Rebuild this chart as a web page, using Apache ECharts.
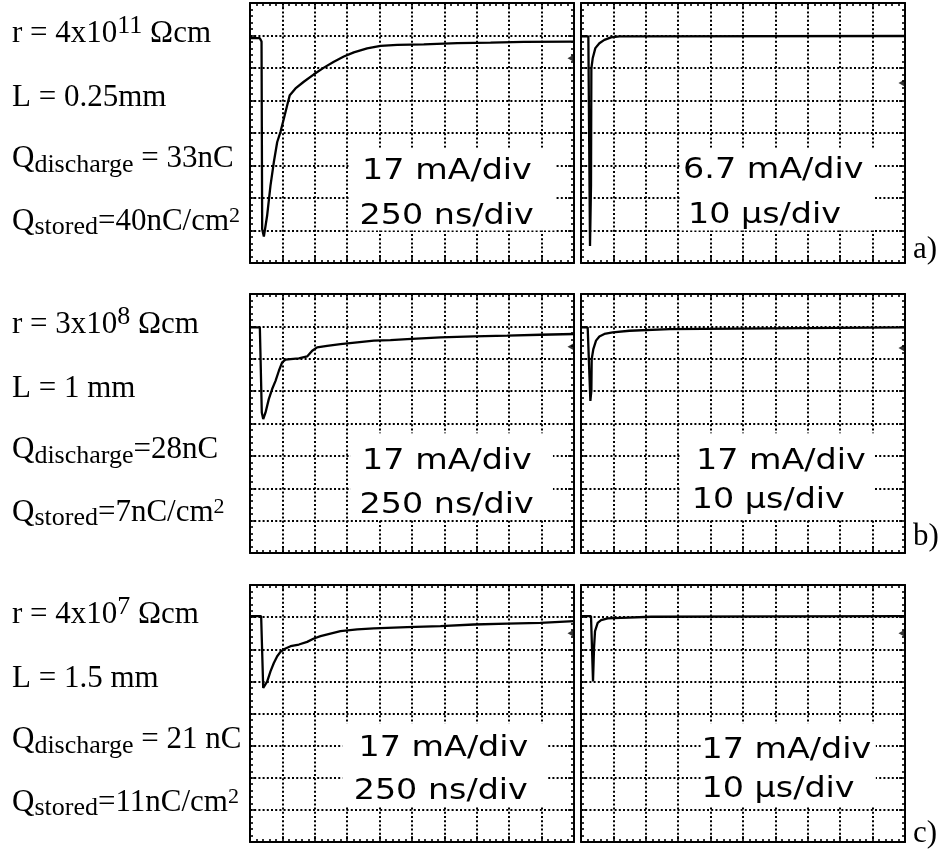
<!DOCTYPE html>
<html><head><meta charset="utf-8">
<script src="https://cdn.jsdelivr.net/npm/echarts@6/dist/echarts.min.js"></script>
<style>html,body{margin:0;padding:0;background:#fff}#c{width:943px;height:852px}</style>
</head><body><div id="c"></div>
<script>
// ---------------- DATA (read from the oscilloscope screens) ----------------
// time in ns (250 ns/div panels) or µs (10 µs/div panels); current in mA, screen centre = 0
const aLeftTime = [0, 76, 89, 94, 107, 132, 158, 184, 210, 235, 261, 287, 307, 351, 415, 493, 570, 647, 724, 801, 904, 1007, 1136, 1341, 1599, 1856, 2113, 2500];
const aLeftCurrent = [49.6, 49.6, 47.8, -50.3, -54.2, -43.3, -27.5, -15.2, -4.7, 0.5, 7.5, 14.5, 19.8, 23.3, 26.8, 30.7, 34.2, 37.3, 40.0, 42.2, 44.3, 45.6, 46.1, 46.4, 47.0, 47.3, 47.7, 47.8];
const aRightTime = [0, 2.27, 2.58, 2.78, 3.09, 3.2, 3.61, 4.43, 5.67, 7.22, 9.28, 11.86, 100];
const aRightCurrent = [19.9, 19.9, 19.7, -23.3, -10.8, 13.3, 15.4, 17.5, 18.5, 19.2, 19.7, 19.9, 20.0];
const bLeftTime = [0, 76, 86, 91, 102, 120, 145, 171, 197, 223, 248, 274, 313, 377, 441, 480, 518, 595, 698, 827, 956, 1084, 1213, 1470, 1727, 1984, 2241, 2500];
const bLeftCurrent = [50.5, 50.5, 49.6, 5.8, 2.3, 5.8, 12.8, 18.1, 22.4, 27.7, 32.1, 33.5, 33.8, 34.2, 35.2, 38.2, 40.0, 40.8, 41.7, 42.6, 43.5, 43.8, 44.3, 45.2, 45.7, 46.1, 46.6, 47.0];
const bRightTime = [0, 2.06, 2.58, 2.89, 3.2, 3.3, 3.81, 4.64, 5.67, 7.22, 9.79, 14.95, 27.3, 100];
const bRightCurrent = [50.5, 50.5, 49.6, 11.9, 17.2, 33.8, 39.1, 43.5, 45.7, 47.0, 47.8, 48.7, 49.6, 50.5];
const cLeftTime = [0, 86, 97, 102, 112, 133, 158, 184, 210, 235, 274, 313, 377, 441, 493, 544, 621, 698, 827, 956, 1213, 1470, 1727, 1984, 2241, 2500];
const cLeftCurrent = [51.5, 51.5, 50.6, 13.5, 12.6, 17.0, 22.3, 26.7, 30.3, 32.6, 34.4, 35.6, 36.5, 37.9, 39.7, 40.9, 42.3, 43.6, 44.5, 45.0, 45.7, 46.2, 47.1, 47.6, 48.0, 48.9];
const cRightTime = [0, 3.09, 3.51, 3.71, 4.02, 4.33, 5.15, 6.19, 8.25, 12.37, 21.65, 100];
const cRightCurrent = [51.5, 51.5, 50.6, 17.0, 34.7, 43.6, 48.0, 49.4, 50.3, 50.6, 51.2, 51.5];

const currentPerDiv = [17, 6.7, 17, 17, 17, 17];      // mA/div
const timePerDiv = [250, 10, 250, 10, 250, 10];       // ns/div or µs/div
const currentLabels = ['17 mA/div', '6.7 mA/div', '17 mA/div', '17 mA/div', '17 mA/div', '17 mA/div'];
const timeLabels = ['250 ns/div', '10 µs/div', '250 ns/div', '10 µs/div', '250 ns/div', '10 µs/div'];
const groundMarker = [39.1, 10.3, 40.3, 39.6, 42.5, 42.5]; // mA, channel marker on right edge
const rowTags = ['a)', 'b)', 'c)'];
// left-hand annotations: [text, kind] kind: n=normal, sup=superscript, sub=subscript
const rowNotes = [
  [[['r = 4x10','n'],['11','sup'],[' Ωcm','n']], [['L = 0.25mm','n']], [['Q','n'],['discharge','sub'],[' = 33nC','n']], [['Q','n'],['stored','sub'],['=40nC/cm','n'],['2','sup2']]],
  [[['r = 3x10','n'],['8','sup'],[' Ωcm','n']], [['L = 1 mm','n']], [['Q','n'],['discharge','sub'],['=28nC','n']], [['Q','n'],['stored','sub'],['=7nC/cm','n'],['2','sup2']]],
  [[['r = 4x10','n'],['7','sup'],[' Ωcm','n']], [['L = 1.5 mm','n']], [['Q','n'],['discharge','sub'],[' = 21 nC','n']], [['Q','n'],['stored','sub'],['=11nC/cm','n'],['2','sup2']]]
];

// ---------------- LAYOUT / STYLE ----------------
const traces = [[aLeftTime,aLeftCurrent],[aRightTime,aRightCurrent],[bLeftTime,bLeftCurrent],[bRightTime,bRightCurrent],[cLeftTime,cLeftCurrent],[cRightTime,cRightCurrent]];
const colLeft = [250, 581];
const rowTop = [3, 294, 585];
const rowHeight = [260, 259, 257];
const panelW = 324;
// white label boxes [x0,x1,y0,y1] in divisions (y from top)
const boxDiv = [[3.05,9.42,4.45,7.0],[3.05,9.05,4.45,7.0],[3.1,9.35,4.3,6.95],[3.05,9.05,4.3,6.95],[2.85,9.2,4.3,6.9],[3.7,9.1,4.3,6.9]];
// label line positions [xDiv, baselineDiv]
const lab1Div = [[3.46,5.40],[3.15,5.37],[3.46,5.40],[3.55,5.40],[3.35,5.33],[3.72,5.37]];
const lab2Div = [[3.38,6.79],[3.30,6.76],[3.38,6.75],[3.42,6.60],[3.20,6.67],[3.72,6.60]];
const noteBaselines = [[42,106,167,230],[332.5,396.5,457.5,520.5],[623,687,748,811]];
const tagBaselines = [258, 545, 842];

const mctx = document.createElement('canvas').getContext('2d');
function fontStr(size, fam){ return size + 'px ' + fam; }
function textW(t, size, fam){ mctx.font = fontStr(size, fam); return mctx.measureText(t).width; }
function midOffset(size, fam){ mctx.font = fontStr(size, fam); mctx.textBaseline = 'middle'; const m = mctx.measureText('H'); mctx.textBaseline = 'alphabetic'; return m.actualBoundingBoxDescent; }

const SERIF = '"Liberation Serif"';
const SANS = '"DejaVu Sans"';
const black = '#000';

const grids = [], xAxes = [], yAxes = [], series = [], graphics = [];
const tickStyle = {color: black, width: 1.6};
const gridDots = {color:'#000', width:2, type:[2,2.2]};
function xAxis(gi, pos, ts, split){
  return {type:'value', gridIndex:gi, position:pos, min:0, max:10*ts, interval:ts,
    axisLine:{show:true, onZero:false, lineStyle:{color:black, width:2}},
    axisTick:{show:true, inside:true, length:6, lineStyle:tickStyle},
    minorTick:{show:true, splitNumber:5, length:3, lineStyle:tickStyle},
    axisLabel:{show:false},
    splitLine:{show:split, lineStyle:gridDots},
    minorSplitLine:{show:false}};
}
function yAxis(gi, pos, cs, split){
  return {type:'value', gridIndex:gi, position:pos, min:-4*cs, max:4*cs, interval:cs,
    axisLine:{show:true, onZero:false, lineStyle:{color:black, width:2}},
    axisTick:{show:true, inside:true, length:6, lineStyle:tickStyle},
    minorTick:{show:true, splitNumber:5, length:3, lineStyle:tickStyle},
    axisLabel:{show:false},
    splitLine:{show:split, lineStyle:gridDots},
    minorSplitLine:{show:false}};
}

const sansMid = midOffset(29, SANS);
for (let i = 0; i < 6; i++){
  const row = Math.floor(i/2), col = i % 2;
  const left = colLeft[col], top = rowTop[row], h = rowHeight[row];
  const dx = panelW/10, dy = h/8;
  grids.push({left:left, top:top, width:panelW, height:h, outerBoundsMode:'none', containLabel:false});
  xAxes.push(xAxis(i, 'bottom', timePerDiv[i], true));
  xAxes.push(xAxis(i, 'top', timePerDiv[i], false));
  yAxes.push(yAxis(i, 'left', currentPerDiv[i], true));
  yAxes.push(yAxis(i, 'right', currentPerDiv[i], false));
  const [tt, cc] = traces[i];
  series.push({type:'line', xAxisIndex:2*i, yAxisIndex:2*i, data: tt.map((t,k)=>[t, cc[k]]),
    showSymbol:false, symbol:'none', lineStyle:{color:black, width:2.3}, z:5, animation:false});
  series.push({type:'scatter', xAxisIndex:2*i, yAxisIndex:2*i, data:[[10*timePerDiv[i], groundMarker[i]]],
    symbol:'triangle', symbolRotate:90, symbolSize:[8,7], symbolOffset:[-3,0], itemStyle:{color:black}, clip:false, z:6, animation:false});
  const b = boxDiv[i];
  graphics.push({type:'rect', z:3, silent:true, shape:{x:left+b[0]*dx, y:top+b[2]*dy, width:(b[1]-b[0])*dx, height:(b[3]-b[2])*dy}, style:{fill:'#fff'}});
  [[lab1Div[i], currentLabels[i]], [lab2Div[i], timeLabels[i]]].forEach(([p, txt]) => {
    graphics.push({type:'text', z:10, silent:true, x:left+p[0]*dx, y:top+p[1]*dy - sansMid, scaleX:1.15,
      style:{text:txt, x:0, y:0, fontSize:29, fontFamily:SANS, fill:black, align:'left', verticalAlign:'middle'}});
  });
}

// left annotations
const kinds = {n:{size:31, dy:0}, sup:{size:26, dy:-9}, sub:{size:26, dy:5}, sup2:{size:22, dy:-8}};
for (let r = 0; r < 3; r++){
  rowNotes[r].forEach((line, li) => {
    let x = 12;
    const base = noteBaselines[r][li];
    line.forEach(([txt, kind]) => {
      const k = kinds[kind];
      const ddy = (kind === 'sub' && txt === 'stored') ? 4 : k.dy;
      graphics.push({type:'text', z:10, silent:true, x:x, y:base + ddy - midOffset(k.size, SERIF),
        style:{text:txt, x:0, y:0, fontSize:k.size, fontFamily:SERIF, fill:black, align:'left', verticalAlign:'middle'}});
      x += textW(txt, k.size, SERIF);
    });
  });
  graphics.push({type:'text', z:10, silent:true, x:913, y:tagBaselines[r] - midOffset(31, SERIF),
    style:{text:rowTags[r], x:0, y:0, fontSize:31, fontFamily:SERIF, fill:black, align:'left', verticalAlign:'middle'}});
}

const chart = echarts.init(document.getElementById('c'), null, {renderer:'canvas'});
chart.setOption({
  animation:false,
  backgroundColor:'#fff',
  grid:grids, xAxis:xAxes, yAxis:yAxes, series:series,
  graphic:{elements:graphics}
});
</script></body></html>
